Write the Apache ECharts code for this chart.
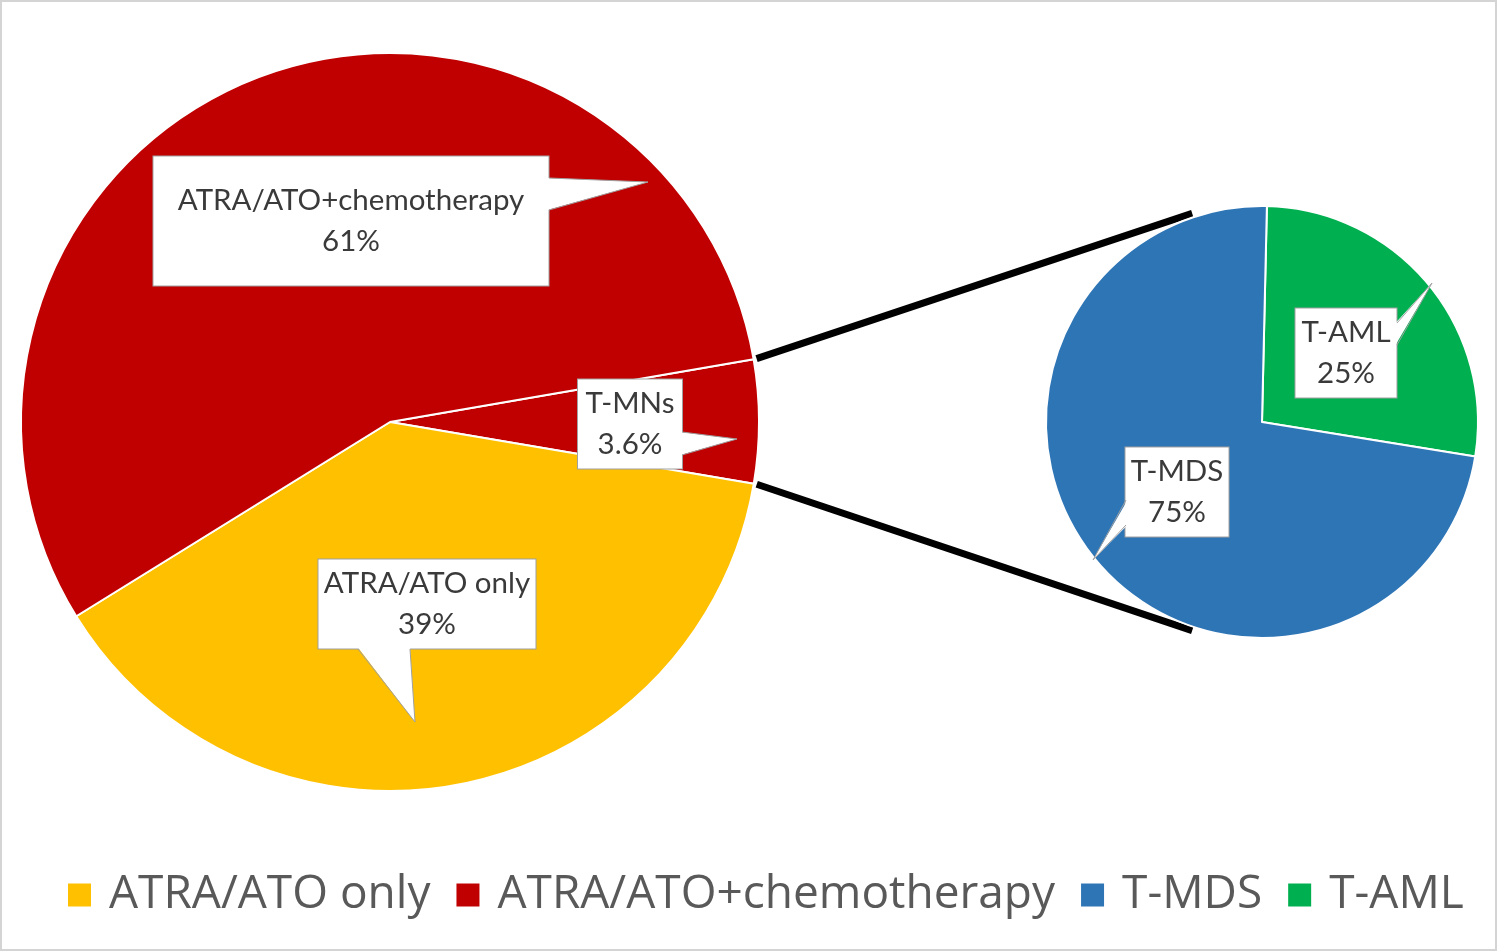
<!doctype html>
<html>
<head>
<meta charset="utf-8">
<title>T-MNs pie of pie</title>
<style>
html,body{height:100%;padding:0;margin:0;background:#fff;}
#main{width:1498px;height:952px;}
</style>
</head>
<body>
<div id="main"></div>
<script src="https://cdn.jsdelivr.net/npm/echarts@6/dist/echarts.min.js"></script>
<script>
// main pie, shares
var mainNames = ['T-MNs', 'ATRA/ATO only', 'ATRA/ATO+chemotherapy'];
var mainValues = [5.4, 38.5, 56.1];
var mainLabels = ['3.6%', '39%', '61%'];
// second pie: split of the T-MNs slice
var subNames = ['T-AML', 'T-MDS'];
var subValues = [27.2, 72.8];
var subLabels = ['25%', '75%'];
var legendNames = ['ATRA/ATO only', 'ATRA/ATO+chemotherapy', 'T-MDS', 'T-AML'];

var colors = {
	'T-MNs': '#C00000',
	'ATRA/ATO only': '#FFC000',
	'ATRA/ATO+chemotherapy': '#C00000',
	'T-MDS': '#2E75B6',
	'T-AML': '#00B050'
};

var mainCenter = [390, 422], mainR = 369, mainStart = 9.8;
var subCenter = [1262, 422], subR = 216, subStart = 88.7;

// callout boxes (centre, size) and their tails [base, tip, base]
var callouts = {
	'ATRA/ATO+chemotherapy': {x: 351, y: 221, w: 395, h: 129, tail: [[549, 178], [648, 182], [549, 210]]},
	'T-MNs': {x: 630, y: 424, w: 104, h: 89, tail: [[682, 432], [737, 439], [682, 455]]},
	'ATRA/ATO only': {x: 427, y: 604, w: 217, h: 89, tail: [[358, 649], [415, 722], [410, 649]]},
	'T-MDS': {x: 1177, y: 492, w: 103, h: 89, tail: [[1126, 500], [1093, 560], [1126, 525]]},
	'T-AML': {x: 1346, y: 353, w: 101, h: 89, tail: [[1397, 323], [1432, 283], [1397, 345]]}
};

var LINE_H = 41;
var labelFont = 'Lato';

function buildData(names, values, pcts) {
	return names.map(function (n, i) {
		var c = callouts[n];
		var pv = (c.h - 2 * LINE_H) / 2;
		return {
			name: n,
			value: values[i],
			pct: pcts[i],
			itemStyle: {color: colors[n]},
			label: {width: c.w, padding: [Math.ceil(pv), 0, Math.floor(pv), 0]}
		};
	});
}

function labelLayoutFor(names) {
	return function (params) {
		var c = callouts[names[params.dataIndex]];
		return {x: c.x, y: c.y, align: 'center', verticalAlign: 'middle'};
	};
}

var pieLabel = {
	show: true,
	position: 'inside',
	formatter: function (p) { return p.name + '\n' + p.data.pct; },
	fontFamily: labelFont,
	fontSize: 29.5,
	lineHeight: LINE_H,
	color: '#3a3a3a',
	align: 'center',
	backgroundColor: '#fff',
	borderColor: '#a0a0a0',
	borderWidth: 1
};

// connector lines: from the T-MNs slice edges to the second pie
function sum(a) { return a.reduce(function (s, v) { return s + v; }, 0); }
var rad = Math.PI / 180;
var aTop = mainStart * rad;
var aBot = (mainStart - 360 * mainValues[0] / sum(mainValues)) * rad;
var subEdge = 108.5 * rad;
function onCircle(c, r, a) { return [c[0] + r * Math.cos(a), c[1] - r * Math.sin(a)]; }
var conTop = [onCircle(mainCenter, mainR + 3, aTop), onCircle(subCenter, subR + 4, subEdge)];
var conBot = [onCircle(mainCenter, mainR + 3, aBot), onCircle(subCenter, subR + 4, -subEdge)];

var graphics = [
	{type: 'rect', shape: {x: 1, y: 1, width: 1495, height: 949}, style: {fill: null, stroke: '#d4d4d4', lineWidth: 2}, z: 0, silent: true},
	{type: 'line', shape: {x1: conTop[0][0], y1: conTop[0][1], x2: conTop[1][0], y2: conTop[1][1]}, style: {stroke: '#000', lineWidth: 7}, z: 1},
	{type: 'line', shape: {x1: conBot[0][0], y1: conBot[0][1], x2: conBot[1][0], y2: conBot[1][1]}, style: {stroke: '#000', lineWidth: 7}, z: 1}
];

// callout tails, drawn over the box border
Object.keys(callouts).forEach(function (k) {
	var c = callouts[k], t = c.tail;
	var b1 = t[0].slice(), b2 = t[2].slice();
	if (b1[0] === b2[0]) {
		var sx = c.x > b1[0] ? 1.5 : -1.5;
		b1[0] += sx; b2[0] += sx;
	} else {
		var sy = c.y > b1[1] ? 1.5 : -1.5;
		b1[1] += sy; b2[1] += sy;
	}
	graphics.push({type: 'polygon', shape: {points: [b1, t[1], b2]}, style: {fill: '#fff', stroke: null}, z: 100});
	graphics.push({type: 'polyline', shape: {points: [t[0], t[1], t[2]]}, style: {fill: null, stroke: '#a0a0a0', lineWidth: 1}, z: 101});
});

var myChart = echarts.init(document.getElementById('main'));
var option = {
	animation: false,
	backgroundColor: '#fff',
	legend: {
		data: legendNames,
		left: 66,
		top: 870,
		padding: 0,
		icon: 'rect',
		itemWidth: 25,
		itemHeight: 25,
		itemGap: 24,
		selectedMode: false,
		textStyle: {fontFamily: 'Open Sans', fontSize: 46, color: '#595959', lineHeight: 50, padding: [0, 0, 0, 12]}
	},
	graphic: graphics,
	series: [
		{
			name: 'treatment',
			type: 'pie',
			center: mainCenter,
			radius: mainR,
			startAngle: mainStart,
			clockwise: true,
			avoidLabelOverlap: false,
			emphasis: {scale: false},
			itemStyle: {borderColor: '#fff', borderWidth: 2},
			label: pieLabel,
			labelLine: {show: false},
			labelLayout: labelLayoutFor(mainNames),
			data: buildData(mainNames, mainValues, mainLabels)
		},
		{
			name: 'T-MNs',
			type: 'pie',
			center: subCenter,
			radius: subR,
			startAngle: subStart,
			clockwise: true,
			avoidLabelOverlap: false,
			emphasis: {scale: false},
			itemStyle: {borderColor: '#fff', borderWidth: 2},
			label: pieLabel,
			labelLine: {show: false},
			labelLayout: labelLayoutFor(subNames),
			data: buildData(subNames, subValues, subLabels)
		}
	]
};
myChart.setOption(option);
</script>
</body>
</html>
